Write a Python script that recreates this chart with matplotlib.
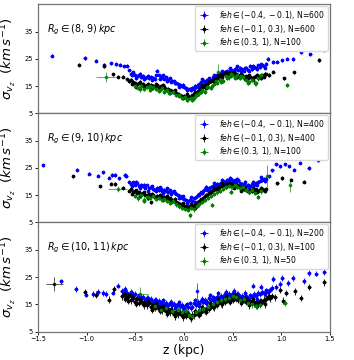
import matplotlib
matplotlib.use('Agg')
import matplotlib.pyplot as plt

# ---------------- shared z grids (kpc) ----------------
z_grid_a = [-0.56, -0.54, -0.52, -0.50, -0.48, -0.46, -0.44, -0.42, -0.40, -0.38,
            -0.36, -0.34, -0.32, -0.30, -0.28, -0.26, -0.24, -0.22, -0.20, -0.18,
            -0.16, -0.14, -0.12, -0.10, -0.08, -0.06, -0.04, -0.02, 0.00, 0.02,
            0.04, 0.06, 0.08, 0.10, 0.12, 0.14, 0.16, 0.18, 0.20, 0.22,
            0.24, 0.26, 0.28, 0.30, 0.32, 0.34, 0.36, 0.38, 0.40, 0.42,
            0.44, 0.46, 0.48, 0.50, 0.52, 0.54, 0.56, 0.58, 0.60, 0.62,
            0.64, 0.66, 0.68, 0.70, 0.72, 0.74, 0.76, 0.78, 0.80, 0.82,
            0.84]
z_grid_b = [-0.53, -0.49, -0.45, -0.41, -0.37, -0.33, -0.29, -0.25, -0.21, -0.17,
            -0.13, -0.09, -0.05, -0.01, 0.03, 0.07, 0.11, 0.15, 0.19, 0.23,
            0.27, 0.31, 0.35, 0.39, 0.43, 0.47, 0.51, 0.55, 0.59, 0.63,
            0.67, 0.71, 0.75, 0.79, 0.83]
z_grid_c = [-0.64, -0.62, -0.60, -0.58, -0.56, -0.54, -0.52, -0.50, -0.48, -0.46,
            -0.44, -0.42, -0.40, -0.38, -0.36, -0.34, -0.32, -0.30, -0.28, -0.26,
            -0.24, -0.22, -0.20, -0.18, -0.16, -0.14, -0.12, -0.10, -0.08, -0.06,
            -0.04, -0.02, 0.00, 0.02, 0.04, 0.06, 0.08, 0.10, 0.12, 0.14,
            0.16, 0.18, 0.20, 0.22, 0.24, 0.26, 0.28, 0.30, 0.32, 0.34,
            0.36, 0.38, 0.40, 0.42, 0.44, 0.46, 0.48, 0.50, 0.52, 0.54,
            0.56, 0.58, 0.60, 0.62, 0.64, 0.66, 0.68, 0.70, 0.72, 0.74,
            0.76, 0.78, 0.80, 0.82, 0.84, 0.86, 0.88, 0.90]
z_grid_d = [-0.61, -0.57, -0.53, -0.49, -0.45, -0.41, -0.37, -0.33, -0.29, -0.25,
            -0.21, -0.17, -0.13, -0.09, -0.05, -0.01, 0.03, 0.07, 0.11, 0.15,
            0.19, 0.23, 0.27, 0.31, 0.35, 0.39, 0.43, 0.47, 0.51, 0.55,
            0.59, 0.63, 0.67, 0.71, 0.75, 0.79, 0.83, 0.87]
z_grid_g = [-0.50, -0.47, -0.44, -0.41, -0.38, -0.35, -0.32, -0.29, -0.26, -0.23,
            -0.20, -0.17, -0.14, -0.11, -0.08, -0.05, -0.02, 0.01, 0.04, 0.07,
            0.10, 0.13, 0.16, 0.19, 0.22, 0.25, 0.28, 0.31, 0.34, 0.37,
            0.40, 0.43, 0.46, 0.49, 0.52, 0.55, 0.58, 0.61, 0.64, 0.67,
            0.70, 0.73, 0.76, 0.79]

# ---------------- Panel 1: Rg in (8, 9) ----------------
p1_blue_a = [20.8, 19.6, 20.1, 19.2, 18.6, 19.0, 18.2, 18.7, 18.0, 18.5,
             17.8, 18.3, 18.1, 17.6, 20.7, 18.9, 17.9, 18.6, 17.7, 18.2,
             17.4, 17.9, 17.0, 16.8, 16.2, 15.9, 15.4, 15.0, 14.6, 14.2,
             13.8, 14.1, 14.4, 14.0, 14.8, 15.3, 15.9, 16.4, 16.9, 16.5,
             17.3, 17.8, 17.4, 18.2, 18.6, 18.9, 19.3, 19.7, 19.4, 20.2,
             20.6, 20.3, 21.0, 20.7, 21.4, 21.2, 20.8, 21.6, 21.1, 20.6,
             21.8, 21.0, 22.4, 21.3, 22.0, 21.7, 22.6, 21.9, 22.8, 22.3,
             23.1]
p1_blue_b = [19.0, 18.0, 19.5, 17.6, 18.8, 17.4, 19.0, 17.7, 18.9, 16.9,
             16.6, 16.0, 14.8, 15.5, 13.4, 13.5, 15.0, 14.6, 17.5, 17.0,
             16.8, 19.0, 18.2, 20.4, 19.8, 21.5, 20.0, 22.3, 20.4, 21.6,
             20.6, 22.5, 21.1, 23.0, 21.8]
p1_blue_out_z = [-1.36, -1.02, -0.90, -0.82, -0.75, -0.70, -0.66, -0.62, -0.58,
                 0.86, 0.92, 0.96, 1.01, 1.06, 1.12, 1.20, 1.30, 1.44]
p1_blue_out_s = [26.2, 25.3, 24.3, 22.8, 23.4, 23.0, 22.8, 22.2, 22.5,
                 24.9, 23.8, 24.0, 24.4, 25.0, 24.9, 27.5, 26.7, 28.3]

p1_black_a = [16.8, 17.2, 16.4, 16.0, 15.6, 16.3, 15.2, 15.8, 15.0, 15.5,
              14.9, 15.4, 15.1, 14.6, 15.3, 14.8, 15.0, 14.4, 14.7, 14.1,
              13.9, 13.5, 13.2, 12.8, 12.3, 12.0, 11.6, 11.2, 11.5, 10.9,
              11.3, 11.0, 11.6, 12.0, 12.5, 13.1, 13.6, 14.2, 14.8, 15.3,
              15.9, 16.4, 16.8, 17.2, 17.8, 18.1, 18.6, 18.9, 19.3, 19.6,
              19.4, 19.8, 19.5, 19.9, 19.3, 19.6, 19.0, 18.7, 18.9, 18.3,
              18.6, 18.0, 18.4, 17.9, 18.2, 18.6, 18.0, 18.8, 19.0, 18.5,
              19.3]
p1_black_b = [15.9, 14.8, 16.6, 14.5, 15.8, 14.2, 15.9, 14.0, 15.4, 13.6,
              12.7, 13.5, 11.9, 10.6, 12.1, 10.5, 13.0, 12.4, 15.5, 14.4,
              17.0, 16.5, 19.2, 18.2, 20.0, 18.8, 20.3, 18.2, 19.5, 17.6,
              18.9, 17.3, 19.2, 18.0, 19.6]
p1_black_out_z = [-1.08, -0.82, -0.73, -0.68, -0.63, -0.58, 0.87, 0.92, 1.03, 1.13, 1.39]
p1_black_out_s = [22.8, 22.4, 19.3, 18.5, 18.5, 17.5, 19.1, 20.3, 17.8, 20.1, 24.6]

p1_green_g = [15.2, 14.4, 15.0, 14.1, 14.8, 13.7, 14.5, 14.0, 13.2, 14.3,
              13.0, 13.6, 12.4, 12.9, 11.8, 11.3, 10.6, 11.0, 10.1, 10.8,
              10.5, 11.9, 12.3, 13.6, 13.0, 14.8, 14.2, 15.9, 16.2, 17.3,
              17.0, 18.6, 18.2, 19.2, 18.5, 19.0, 17.9, 18.3, 17.4, 16.5,
              17.2, 16.0, 17.8, 18.9]
p1_green_out_z = [-0.45, -0.35, -0.25, -0.15, -0.05, 0.03, 0.08, 0.12, 0.18, 0.24,
                  0.29, 0.33, 0.38, 0.44, 0.48, 0.53, 0.59, 0.66, 0.74, 1.06]
p1_green_out_s = [13.8, 14.9, 13.5, 12.6, 11.9, 9.9, 10.0, 11.6, 12.8, 14.5,
                  15.0, 17.0, 16.4, 18.0, 19.6, 18.1, 18.8, 16.3, 16.0, 15.4]
p1_green_wide_z = [-0.80, 0.35]
p1_green_wide_s = [18.2, 20.0]
p1_green_wide_xe = [0.10, 0.01]
p1_green_wide_ye = [1.8, 3.0]

# ---------------- Panel 2: Rg in (9, 10) ----------------
p2_blue_a = [20.0, 19.2, 19.7, 18.8, 19.4, 18.5, 18.9, 18.2, 17.8, 18.6,
             17.5, 18.0, 17.2, 16.9, 17.6, 16.8, 17.3, 16.5, 17.0, 16.7,
             16.2, 16.8, 16.0, 16.4, 15.5, 15.0, 14.6, 14.0, 13.6, 13.1,
             12.8, 13.3, 13.0, 13.8, 14.3, 14.9, 15.4, 16.0, 16.6, 17.1,
             17.0, 17.6, 18.1, 18.4, 18.9, 19.2, 19.0, 19.6, 20.1, 19.8,
             20.6, 20.3, 20.8, 20.2, 20.5, 19.9, 20.4, 19.6, 19.2, 18.8,
             18.5, 18.9, 18.3, 19.0, 18.6, 19.4, 19.8, 20.3, 20.6, 21.1,
             21.0]
p2_blue_b = [18.4, 19.9, 17.6, 18.9, 16.6, 18.2, 16.4, 17.9, 15.8, 17.5,
             15.4, 15.7, 13.9, 14.6, 12.2, 14.2, 12.5, 15.1, 15.8, 18.0,
             16.7, 19.6, 18.1, 20.6, 19.5, 21.3, 19.3, 21.0, 18.5, 19.8,
             17.9, 19.9, 18.8, 21.5, 20.2]
p2_blue_out_z = [-1.45, -1.10, -0.97, -0.88, -0.83, -0.77, -0.74, -0.71, -0.67, -0.61, -0.59,
                 0.87, 0.91, 0.95, 0.99, 1.04, 1.08, 1.13, 1.19, 1.28, 1.38]
p2_blue_out_s = [26.0, 24.4, 22.9, 22.2, 23.4, 21.4, 22.4, 22.4, 21.2, 22.4, 21.9,
                 21.9, 24.1, 26.3, 25.6, 26.3, 25.6, 24.4, 26.9, 25.0, 27.9]

p2_black_a = [16.6, 17.1, 16.2, 16.5, 15.8, 16.0, 15.4, 15.7, 15.2, 14.9,
              15.3, 14.7, 15.0, 14.5, 14.8, 14.3, 14.6, 14.1, 14.4, 13.9,
              13.6, 13.8, 13.2, 12.9, 12.5, 12.1, 11.8, 11.3, 11.0, 11.2,
              10.8, 11.1, 10.6, 11.4, 11.9, 12.4, 12.9, 13.5, 14.0, 14.6,
              15.1, 15.7, 16.2, 16.8, 17.2, 17.6, 18.0, 18.3, 18.6, 18.9,
              19.1, 18.8, 19.2, 18.9, 18.5, 18.7, 18.2, 17.9, 17.6, 17.3,
              17.0, 16.7, 16.9, 16.5, 16.8, 17.1, 16.6, 17.0, 17.2, 16.9,
              17.4]
p2_black_b = [15.5, 16.8, 14.7, 16.1, 14.0, 15.4, 13.8, 15.2, 13.3, 14.7,
              12.5, 13.6, 11.0, 12.0, 10.2, 11.9, 10.4, 12.2, 13.3, 15.2,
              16.0, 17.6, 17.3, 19.4, 18.0, 19.6, 17.8, 18.8, 16.6, 17.8,
              16.0, 17.5, 16.2, 17.7, 16.4]
p2_black_out_z = [-1.14, -0.86, -0.75, -0.71, -0.63, -0.34, 0.96, 1.01, 1.10, 1.23]
p2_black_out_s = [21.9, 18.2, 19.2, 19.1, 17.8, 12.4, 19.4, 21.3, 20.7, 20.0]

p2_green_g = [14.6, 13.8, 14.9, 13.4, 14.2, 13.9, 14.6, 13.5, 14.1, 13.2,
              13.6, 12.8, 12.3, 12.9, 11.6, 11.1, 10.4, 10.0, 9.6, 10.2,
              9.8, 11.0, 11.6, 12.5, 13.3, 13.9, 14.6, 15.4, 16.0, 16.7,
              17.2, 17.9, 18.4, 18.1, 18.6, 18.0, 17.6, 17.9, 16.8, 16.2,
              16.9, 15.8, 14.4, 16.4]
p2_green_out_z = [-0.41, 0.06, 0.29, 0.48]
p2_green_out_s = [13.0, 7.6, 11.3, 16.3]
p2_green_wide_z = [-0.68, 0.85, 1.09]
p2_green_wide_s = [17.2, 21.9, 18.8]
p2_green_wide_xe = [0.10, 0.01, 0.01]
p2_green_wide_ye = [1.0, 4.0, 2.5]

# ---------------- Panel 3: Rg in (10, 11) ----------------
p3_blue_c = [19.8, 18.6, 20.4, 19.1, 18.2, 19.5, 17.9, 18.7, 17.4, 18.3,
             17.0, 17.8, 16.5, 17.3, 16.2, 16.9, 15.8, 16.6, 15.5, 16.3,
             15.3, 16.0, 14.9, 15.6, 14.6, 15.4, 14.8, 15.1, 14.4, 15.0,
             14.2, 14.9, 13.8, 14.6, 13.9, 15.3, 14.1, 15.6, 14.8, 15.9,
             15.2, 16.3, 15.7, 16.6, 16.0, 17.2, 16.5, 17.5, 16.9, 17.8,
             17.3, 18.2, 17.6, 18.6, 18.0, 18.9, 18.3, 19.1, 18.5, 18.0,
             18.8, 17.6, 18.2, 17.4, 17.9, 17.2, 18.3, 17.6, 18.7, 18.1,
             19.2, 18.6, 19.5, 19.0, 20.1, 19.6, 20.4, 20.9]
p3_blue_d = [20.6, 18.0, 19.1, 17.1, 18.2, 16.0, 17.4, 15.6, 16.7, 14.9,
             16.4, 14.2, 15.9, 13.8, 15.7, 13.5, 15.0, 13.6, 16.4, 14.4,
             17.0, 15.4, 18.3, 16.2, 19.0, 17.1, 19.5, 17.6, 19.8, 18.9,
             17.0, 19.2, 16.7, 21.8, 17.0, 21.5, 18.7, 19.8]
p3_blue_out_z = [-1.26, -1.11, -1.01, -0.93, -0.88, -0.83, -0.80, -0.73, -0.68,
                 0.92, 0.95, 0.99, 1.01, 1.07, 1.12, 1.17, 1.23, 1.28, 1.36, 1.44]
p3_blue_out_s = [23.4, 20.6, 18.5, 18.7, 19.5, 19.1, 18.7, 19.3, 21.8,
                 24.3, 21.3, 22.5, 24.6, 22.8, 24.6, 29.2, 23.6, 26.5, 26.2, 26.8]
p3_blue_wide_z = [0.13]
p3_blue_wide_s = [19.7]
p3_blue_wide_xe = [0.01]
p3_blue_wide_ye = [3.0]

p3_black_c = [17.9, 18.8, 16.9, 17.6, 18.3, 16.4, 17.2, 16.0, 16.8, 15.6,
              16.3, 15.1, 15.8, 14.6, 15.4, 14.0, 14.9, 13.6, 14.4, 13.2,
              14.0, 12.8, 13.5, 12.4, 13.1, 12.0, 12.7, 11.6, 12.3, 11.3,
              12.0, 11.0, 11.7, 10.8, 11.5, 10.5, 11.2, 10.9, 11.8, 11.4,
              12.4, 12.0, 13.1, 12.7, 13.8, 13.4, 14.5, 14.1, 15.2, 14.8,
              15.8, 15.3, 16.4, 15.9, 16.8, 16.3, 17.2, 16.7, 17.6, 17.0,
              16.5, 17.1, 16.2, 16.8, 15.9, 16.4, 15.6, 16.1, 15.3, 15.8,
              15.5, 16.2, 15.9, 16.7, 17.1, 17.6, 17.2, 18.1]
p3_black_d = [18.6, 16.2, 17.9, 15.2, 17.0, 14.6, 16.2, 13.0, 15.4, 12.6,
              14.4, 11.6, 13.3, 10.6, 12.6, 10.2, 12.2, 9.8, 12.4, 11.0,
              14.0, 12.2, 15.6, 13.9, 16.9, 15.0, 18.1, 16.0, 18.7, 17.9,
              15.4, 17.3, 14.6, 16.9, 14.4, 16.1, 15.0, 17.9]
p3_black_out_z = [-1.02, -0.90, -0.77, -0.72, 0.94, 0.99, 1.02, 1.05, 1.14, 1.20, 1.29, 1.44]
p3_black_out_s = [19.5, 18.5, 16.7, 20.6, 17.5, 20.3, 16.3, 19.1, 19.7, 17.3, 21.3, 23.0]
p3_black_wide_z = [-1.33]
p3_black_wide_s = [22.5]
p3_black_wide_xe = [0.09]
p3_black_wide_ye = [2.5]

p3_green_z = [-0.30, -0.24, -0.18, -0.12, -0.06, -0.02, 0.02, 0.05, 0.08, 0.12,
              0.16, 0.20, 0.25, 0.30, 0.34, 0.38, 0.42, 0.46, 0.50, 0.54,
              0.58, 0.62, 0.66, 0.70, 0.74, 0.78, 1.04]
p3_green_s = [14.2, 13.0, 13.6, 12.4, 12.9, 12.0, 12.6, 11.2, 10.6, 12.1,
              12.8, 13.4, 14.0, 15.1, 15.8, 16.4, 16.9, 17.4, 18.2, 17.5,
              16.6, 17.1, 15.6, 15.0, 14.4, 14.9, 15.4]
p3_green_wide_z = [-0.45]
p3_green_wide_s = [18.8]
p3_green_wide_xe = [0.08]
p3_green_wide_ye = [2.5]

# ---------------- labels ----------------
panel_labels = [r'$R_g \in (8,\,9)\,kpc$', r'$R_g \in (9,\,10)\,kpc$', r'$R_g \in (10,\,11)\,kpc$']
feh_bins = [r'$feh \in (-0.4,\,-0.1)$', r'$feh \in (-0.1,\,0.3)$', r'$feh \in (0.3,\,1)$']
counts = [[600, 600, 100], [400, 400, 100], [200, 100, 50]]
colors = ['blue', 'black', 'green']
yerr_typ = [[0.6, 0.6, 0.8], [0.6, 0.6, 0.8], [1.0, 1.2, 1.2]]
xerr_typ = [0.012, 0.012, 0.015]
y_ticks = [5, 15, 25, 35]
x_ticks = [-1.5, -1.0, -0.5, 0.0, 0.5, 1.0, 1.5]

panels = [
    [
        [(z_grid_a, p1_blue_a), (z_grid_b, p1_blue_b), (p1_blue_out_z, p1_blue_out_s)],
        [(z_grid_a, p1_black_a), (z_grid_b, p1_black_b), (p1_black_out_z, p1_black_out_s)],
        [(z_grid_g, p1_green_g), (p1_green_out_z, p1_green_out_s)],
    ],
    [
        [(z_grid_a, p2_blue_a), (z_grid_b, p2_blue_b), (p2_blue_out_z, p2_blue_out_s)],
        [(z_grid_a, p2_black_a), (z_grid_b, p2_black_b), (p2_black_out_z, p2_black_out_s)],
        [(z_grid_g, p2_green_g), (p2_green_out_z, p2_green_out_s)],
    ],
    [
        [(z_grid_c, p3_blue_c), (z_grid_d, p3_blue_d), (p3_blue_out_z, p3_blue_out_s)],
        [(z_grid_c, p3_black_c), (z_grid_d, p3_black_d), (p3_black_out_z, p3_black_out_s)],
        [(p3_green_z, p3_green_s)],
    ],
]
wide = [
    [None, None, (p1_green_wide_z, p1_green_wide_s, p1_green_wide_xe, p1_green_wide_ye)],
    [None, None, (p2_green_wide_z, p2_green_wide_s, p2_green_wide_xe, p2_green_wide_ye)],
    [(p3_blue_wide_z, p3_blue_wide_s, p3_blue_wide_xe, p3_blue_wide_ye),
     (p3_black_wide_z, p3_black_wide_s, p3_black_wide_xe, p3_black_wide_ye),
     (p3_green_wide_z, p3_green_wide_s, p3_green_wide_xe, p3_green_wide_ye)],
]

fig, axes = plt.subplots(3, 1, sharex=True, figsize=(3.54, 3.60), dpi=100)
fig.subplots_adjust(left=0.107, right=0.932, bottom=0.079, top=0.988, hspace=0)

for p, ax in enumerate(axes):
    handles = []
    for k in range(3):
        first = None
        for zz, ss in panels[p][k]:
            h = ax.errorbar(zz, ss, yerr=yerr_typ[p][k], xerr=xerr_typ[p], fmt='.',
                            ms=3.4, color=colors[k], ecolor=colors[k], elinewidth=0.6,
                            capsize=0)
            if first is None:
                first = h
        w = wide[p][k]
        if w is not None:
            ax.errorbar(w[0], w[1], xerr=w[2], yerr=w[3], fmt='.', ms=3.4,
                        color=colors[k], elinewidth=0.6, capsize=0, alpha=0.75)
        handles.append(first)
    labels = [f'{feh_bins[k]}, N={counts[p][k]}' for k in range(3)]
    ax.legend(handles, labels, loc='upper right', fontsize=5.5, handlelength=1.8,
              handletextpad=1.1, borderpad=0.35, labelspacing=0.22,
              borderaxespad=0.25, framealpha=1.0, edgecolor='0.85')
    ax.text(0.03, 0.77, panel_labels[p], transform=ax.transAxes, fontsize=6.9,
            va='center', ha='left')
    ax.set_ylim(5, 45)
    ax.set_yticks(y_ticks)
    ax.set_xlim(-1.5, 1.5)
    ax.set_xticks(x_ticks)
    ax.tick_params(labelsize=4.8, length=2.0, width=0.6, pad=1.5)
    ax.set_ylabel(r'$\sigma_{v_z}\ \ (km\,s^{-1})$', fontsize=9.6, labelpad=4)
    for sp in ax.spines.values():
        sp.set_color('0.45')
        sp.set_linewidth(0.9)

axes[-1].set_xlabel('z (kpc)', fontsize=8.8, labelpad=1)

fig.savefig('out.png', dpi=100)
